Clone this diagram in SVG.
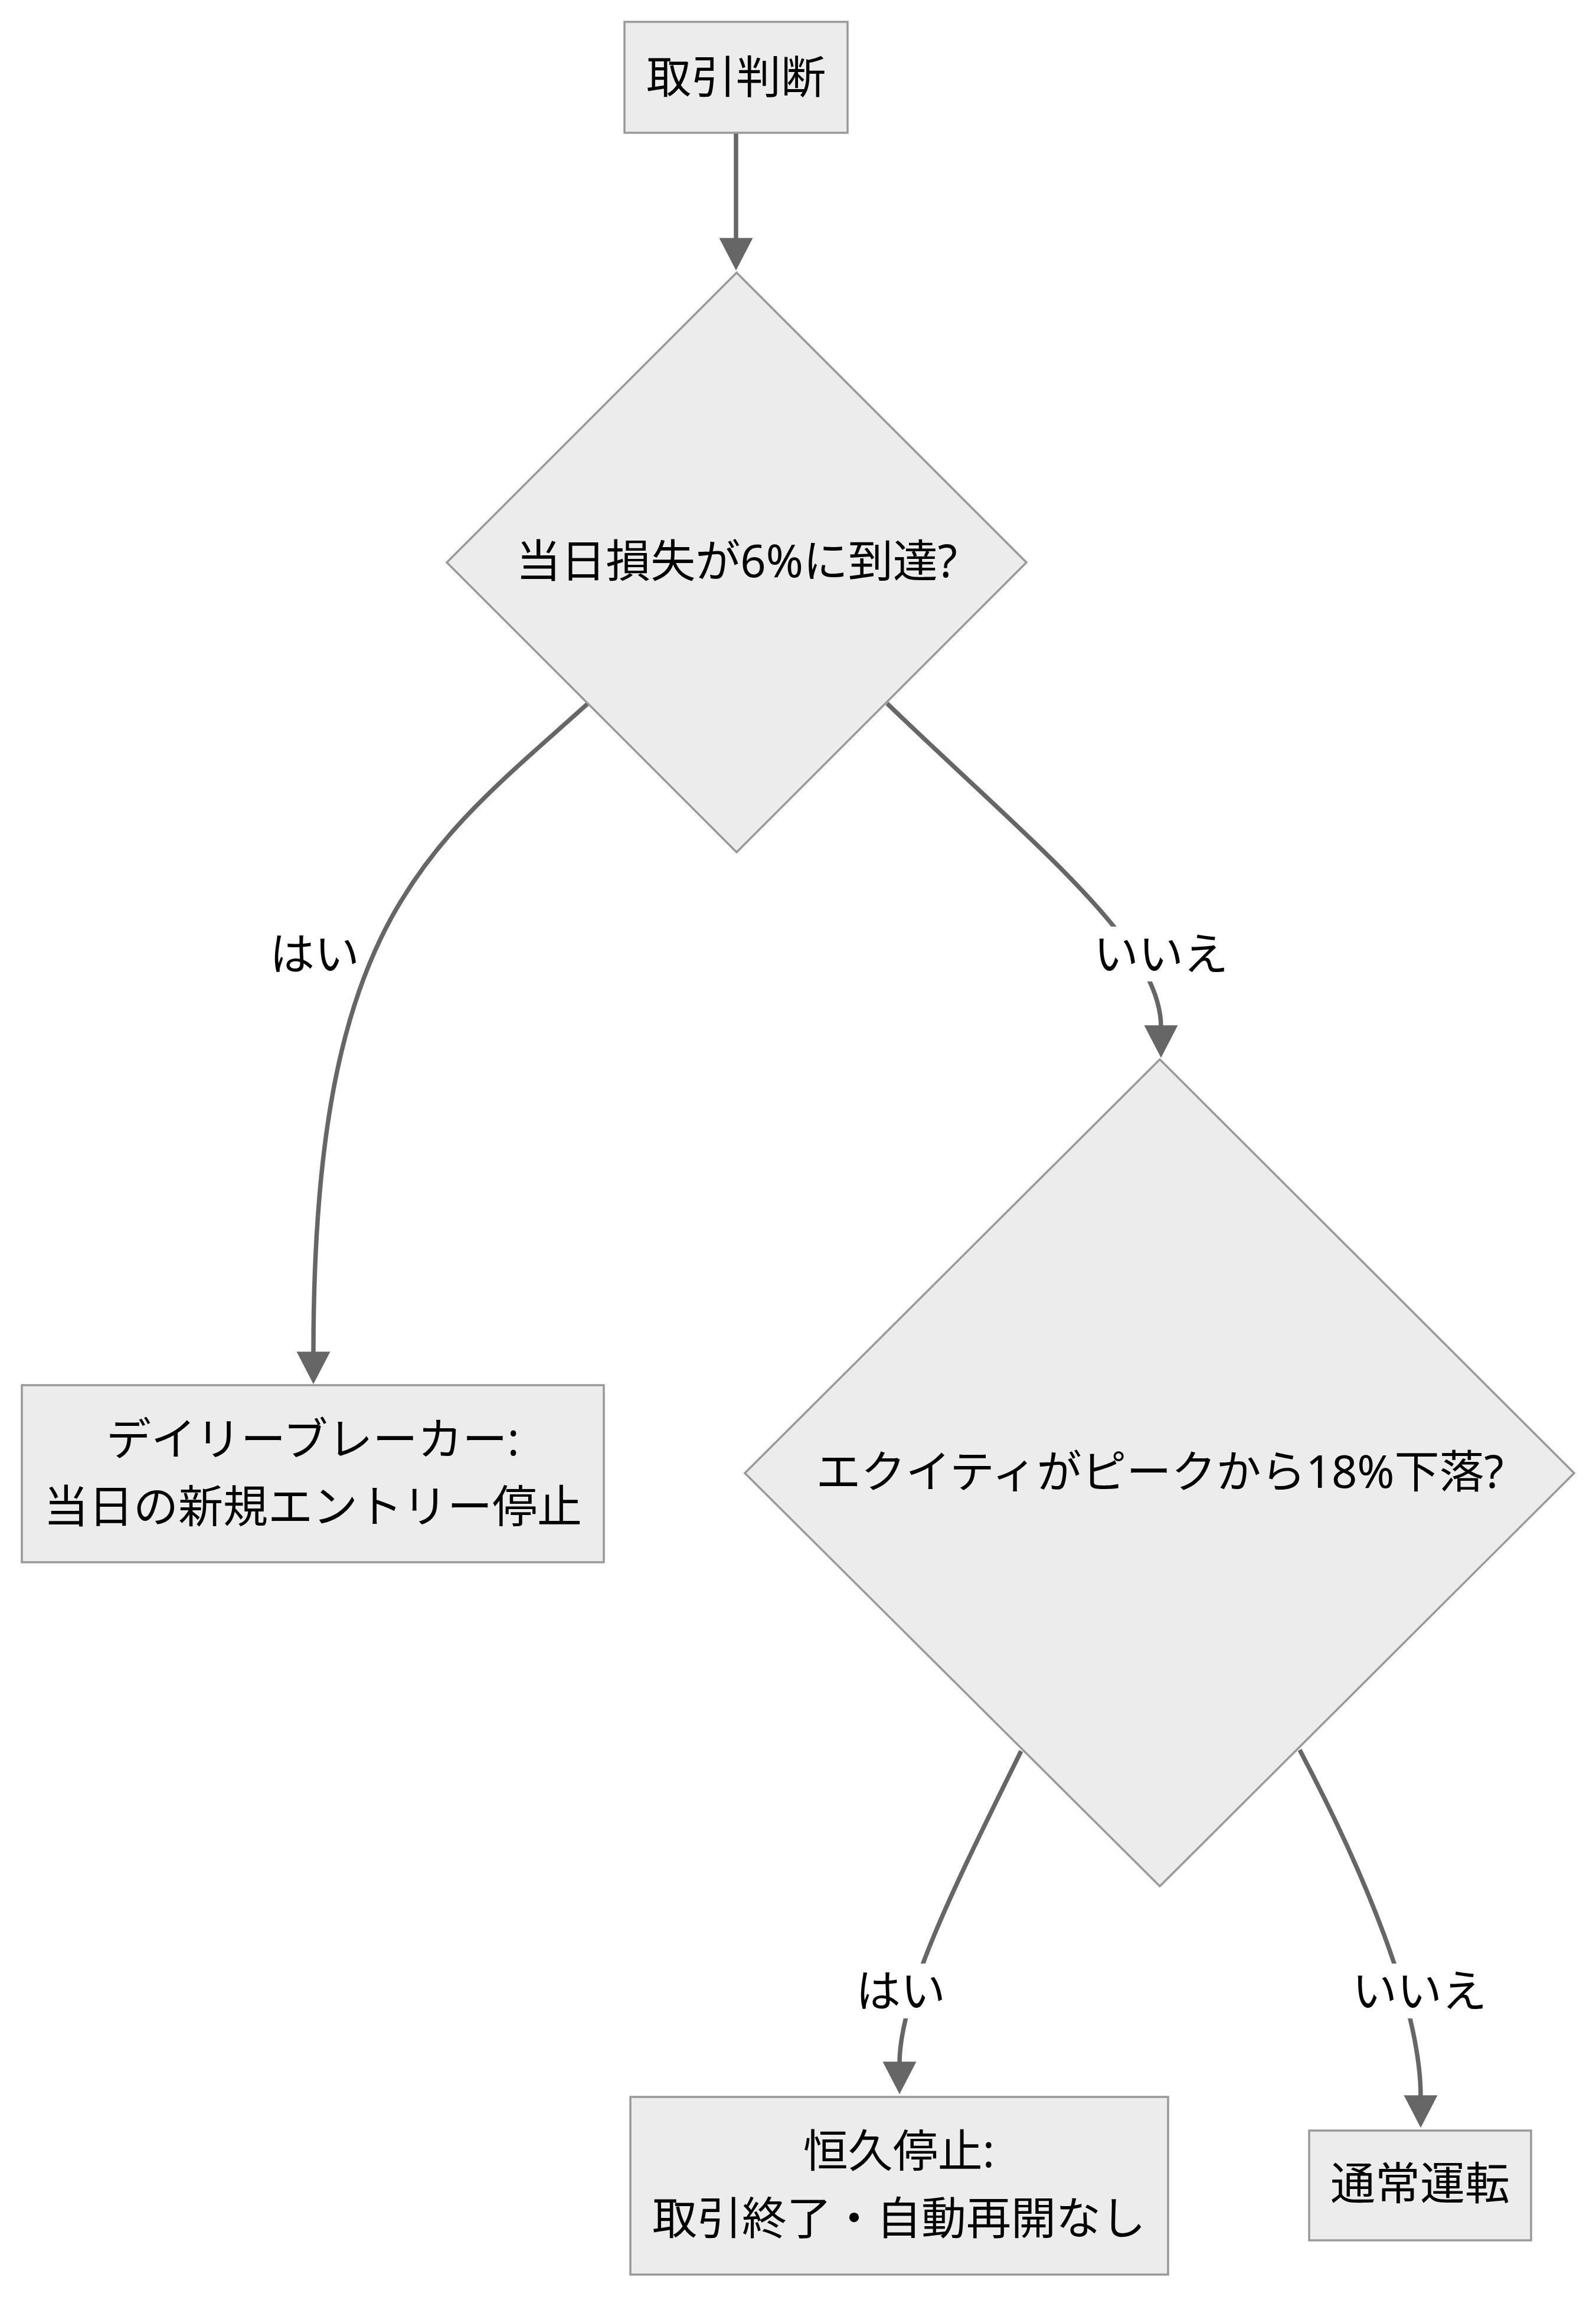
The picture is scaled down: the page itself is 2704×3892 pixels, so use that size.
<svg xmlns="http://www.w3.org/2000/svg" width="2704" height="3892" viewBox="0 0 2704 3892">
<style>
.node rect,.node polygon{fill:#ececec;stroke:#999999;stroke-width:3.5}
.edge{fill:none;stroke:#666666;stroke-width:7.5}
text{font-family:"Noto Sans","Noto Sans CJK JP",sans-serif;font-size:76px;fill:#000;text-anchor:middle;dominant-baseline:central}
.lbg{fill:#ffffff}
</style>
<defs>
<marker id="arrow" viewBox="0 0 10 10" markerUnits="userSpaceOnUse" markerWidth="55" markerHeight="57" refX="0.5" refY="5" orient="auto" preserveAspectRatio="none">
<path d="M0,0 L10,5 L0,10 z" fill="#666666"/>
</marker>
</defs>
<rect width="2704" height="3892" fill="#ffffff"/>
<g id="edges">
<path class="edge" d="M1247,225 L1247,406" marker-end="url(#arrow)"/>
<path class="edge" d="M996,1192 C720,1440 531,1560 531,2293" marker-end="url(#arrow)"/>
<path class="edge" d="M1503,1192 C1750,1430 1967,1600 1967,1740" marker-end="url(#arrow)"/>
<path class="edge" d="M1730,2967 C1620,3190 1524,3380 1524,3496" marker-end="url(#arrow)"/>
<path class="edge" d="M2202,2965 C2310,3170 2407,3400 2407,3553" marker-end="url(#arrow)"/>
</g>
<g id="edge-labels">
<g id="label-yes1"><rect class="lbg" x="461" y="1570" width="144" height="93"/><text x="533" y="1614">はい</text></g>
<g id="label-no1"><rect class="lbg" x="1856" y="1570" width="222" height="93"/><text x="1967" y="1614">いいえ</text></g>
<g id="label-yes2"><rect class="lbg" x="1452" y="3327" width="148" height="93"/><text x="1526" y="3371">はい</text></g>
<g id="label-no2"><rect class="lbg" x="2296" y="3327" width="218" height="93"/><text x="2405" y="3371">いいえ</text></g>
</g>
<g id="node-start" class="node"><rect x="1058" y="37" width="378" height="188"/><text x="1247" y="128">取引判断</text></g>
<g id="node-daily" class="node"><polygon points="1248,462 1739,953 1248,1444 757,953"/><text x="1248" y="948">当日損失が6%に到達?</text></g>
<g id="node-breaker" class="node"><rect x="37" y="2347" width="986" height="300"/><text x="530" y="2436">デイリーブレーカー:</text><text x="530" y="2550">当日の新規エントリー停止</text></g>
<g id="node-equity" class="node"><polygon points="1965,1795 2667,2496 1965,3196 1262,2496"/><text x="1965" y="2491">エクイティがピークから18%下落?</text></g>
<g id="node-stop" class="node"><rect x="1068" y="3553" width="911" height="301"/><text x="1523" y="3642">恒久停止:</text><text x="1523" y="3756">取引終了・自動再開なし</text></g>
<g id="node-normal" class="node"><rect x="2218" y="3610" width="376" height="186"/><text x="2406" y="3697">通常運転</text></g>
</svg>
